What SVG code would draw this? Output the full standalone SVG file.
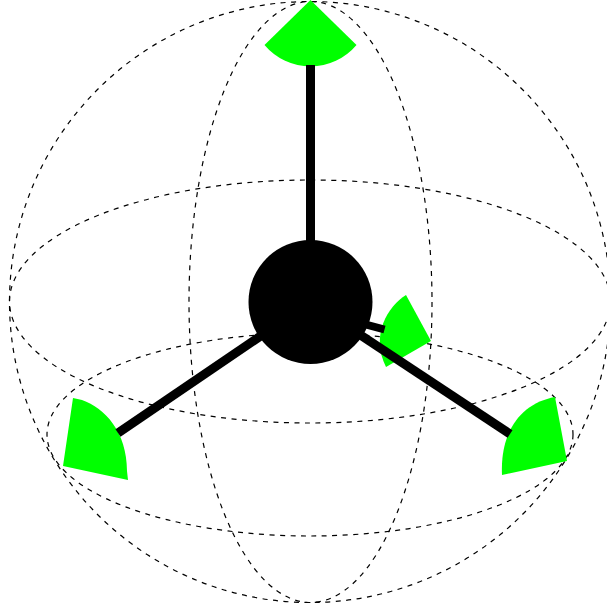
<svg xmlns="http://www.w3.org/2000/svg" width="607" height="611" viewBox="0 0 607 611">
<style>
.g{fill:none;stroke:#000;stroke-width:1.2;stroke-dasharray:5 5.500}
.s{fill:#0f0;stroke:none}
.c{stroke:#000;fill:none}
</style>
<rect width="607" height="611" fill="#fff"/>
<g id="sphere">
<circle class="g" cx="310" cy="302" r="300.5"/>
<ellipse class="g" cx="310.500" cy="302" rx="121.500" ry="300.5"/>
<ellipse class="g" cx="310" cy="301.500" rx="300.5" ry="121.500"/>
<ellipse class="g" cx="310" cy="434.500" rx="263" ry="101.500"/>
</g>
<g id="sector-top"><path class="s" d="M310.500 0L356.500 45A60 60 0 0 1 264.500 45Z"/></g>
<g id="sector-left"><path class="s" d="M63 466L73 398L82 400C105 408 127 432 127 471L128 480Z"/></g>
<g id="sector-right"><path class="s" d="M567 461L555 397C522 403 500 430 502 475Z"/></g>
<g id="sector-back"><path class="s" d="M431 341L406 295C388 306 370 335 386 367Z"/></g>
<g id="connectors">
<path class="c" stroke-width="9" d="M310.500 302V65"/>
<path class="c" stroke-width="9" d="M310.500 302L118 433"/>
<path class="c" stroke-width="9" d="M310.500 302L510 434"/>
<path class="c" stroke-width="8" d="M345 319L384.500 329.500"/>
</g>
<g id="center"><circle cx="310.500" cy="302" r="62" fill="#000"/></g>
</svg>
